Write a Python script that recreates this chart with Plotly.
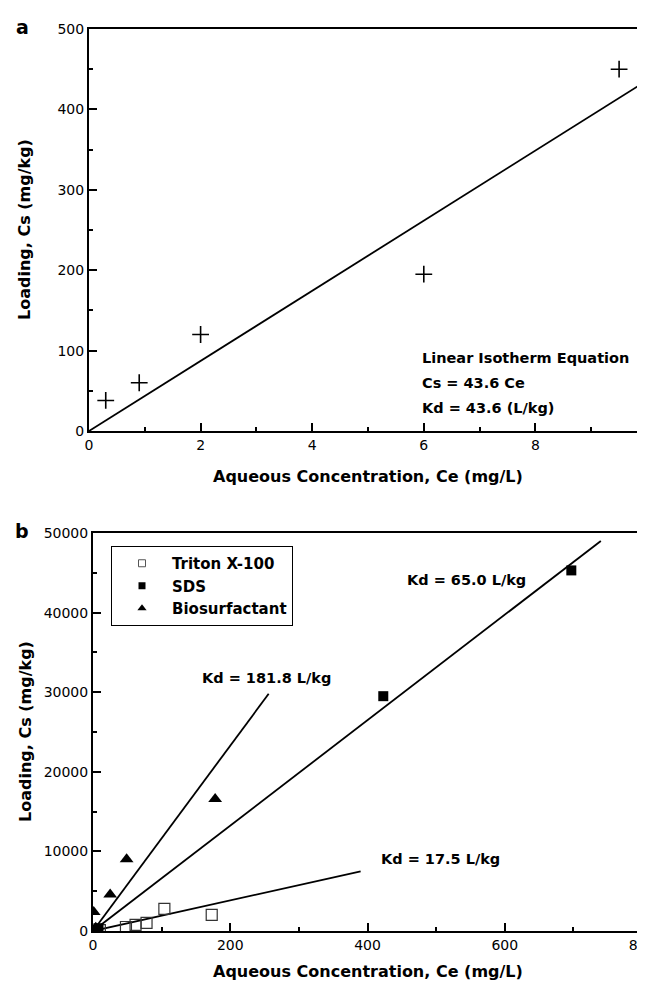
import plotly.graph_objects as go

# ---------- data: panel a ----------
a_ce = [0.3, 0.9, 2.0, 6.0, 9.5]
a_cs = [38, 60, 120, 195, 450]
a_kd = 43.6
a_fit_x = [0, 10]

# ---------- data: panel b ----------
triton_ce = [10, 48, 62, 78, 104, 173]
triton_cs = [100, 500, 760, 1010, 2780, 2030]
sds_ce = [3, 8, 423, 697]
sds_cs = [150, 350, 29500, 45300]
bio_ce = [1, 4, 25, 49, 178]
bio_cs = [2400, 400, 4600, 9000, 16580]

# fitted lines as drawn (start / end points)
line_bio_x = [0, 256]
line_bio_y = [0, 29800]
line_sds_x = [0, 740]
line_sds_y = [0, 49000]
line_tri_x = [0, 390]
line_tri_y = [0, 7500]

W, H = 645, 983
FAM = "DejaVu Sans, sans-serif"

fig = go.Figure()

# panel a
fig.add_trace(go.Scatter(x=a_ce, y=a_cs, mode="markers", xaxis="x", yaxis="y",
                         marker=dict(symbol="cross-thin", size=12, line=dict(color="black", width=1.6)),
                         showlegend=False, cliponaxis=False))
fig.add_trace(go.Scatter(x=a_fit_x, y=[a_kd * v for v in a_fit_x], mode="lines", xaxis="x", yaxis="y",
                         line=dict(color="black", width=1.8), showlegend=False))

# panel b lines
for lx, ly in [(line_bio_x, line_bio_y), (line_sds_x, line_sds_y), (line_tri_x, line_tri_y)]:
    fig.add_trace(go.Scatter(x=lx, y=ly, mode="lines", xaxis="x2", yaxis="y2",
                             line=dict(color="black", width=1.8), showlegend=False))

# panel b markers
fig.add_trace(go.Scatter(x=triton_ce, y=triton_cs, mode="markers", xaxis="x2", yaxis="y2",
                         marker=dict(symbol="square-open", size=11, color="#333", line=dict(width=1.2)),
                         showlegend=False))
fig.add_trace(go.Scatter(x=sds_ce, y=sds_cs, mode="markers", xaxis="x2", yaxis="y2",
                         marker=dict(symbol="square", size=10, color="black"), showlegend=False))
fig.add_trace(go.Scatter(x=bio_ce, y=bio_cs, mode="markers", xaxis="x2", yaxis="y2",
                         marker=dict(symbol="triangle-up", size=12, color="black"), showlegend=False))

# legend entries
fig.add_trace(go.Scatter(x=[None], y=[None], mode="markers", xaxis="x2", yaxis="y2", name="Triton X-100",
                         marker=dict(symbol="square-open", size=7, color="#555", line=dict(width=1))))
fig.add_trace(go.Scatter(x=[None], y=[None], mode="markers", xaxis="x2", yaxis="y2", name="SDS",
                         marker=dict(symbol="square", size=7, color="black")))
fig.add_trace(go.Scatter(x=[None], y=[None], mode="markers", xaxis="x2", yaxis="y2", name="Biosurfactant",
                         marker=dict(symbol="triangle-up", size=8, color="black")))

axis_common = dict(showline=True, linecolor="black", linewidth=2, mirror=True, ticks="inside",
                   ticklen=8, tickwidth=1.5, tickcolor="black", showgrid=False, zeroline=False,
                   automargin=False, tickformat="d", ticklabeloverflow="allow",
                   tickfont=dict(family=FAM, size=14, color="black"))

fig.update_layout(
    template="none",
    width=W, height=H, margin=dict(l=0, r=0, t=0, b=0, pad=0),
    paper_bgcolor="white", plot_bgcolor="white",
    xaxis=dict(domain=[81 / W, 639 / W], range=[0, 10], dtick=2, tick0=0, anchor="y",
               minor=dict(ticks="inside", ticklen=4, tickwidth=1.5, dtick=1, tickcolor="black"),
               **axis_common),
    yaxis=dict(domain=[1 - 423 / H, 1 - 21 / H], range=[0, 500], dtick=100, tick0=0, anchor="x",
               minor=dict(ticks="inside", ticklen=4, tickwidth=1.5, dtick=50, tickcolor="black"),
               **axis_common),
    xaxis2=dict(domain=[85 / W, 634 / W], range=[0, 800], dtick=200, tick0=0, anchor="y2",
                minor=dict(ticks="inside", ticklen=4, tickwidth=1.5, dtick=100, tickcolor="black"),
                **axis_common),
    yaxis2=dict(domain=[1 - 923 / H, 1 - 525 / H], range=[0, 50000], dtick=10000, tick0=0, anchor="x2",
                minor=dict(ticks="inside", ticklen=4, tickwidth=1.5, dtick=5000, tickcolor="black"),
                **axis_common),
    legend=dict(x=103 / W, y=1 - 538 / H, xanchor="left", yanchor="top",
                bordercolor="black", borderwidth=1, bgcolor="white", itemwidth=50,
                font=dict(family=FAM, size=15, color="black", weight="bold"), tracegroupgap=0),
    showlegend=True,
)

ann = []
def pann(text, px, py, size, angle=0):
    ann.append(dict(text=text, x=px / W, y=1 - py / H, xref="paper", yref="paper",
                    xanchor="center", yanchor="middle", textangle=angle, showarrow=False,
                    font=dict(family=FAM, size=size, color="black")))

# panel letters
pann("<b>a</b>", 14, 19, 19)
pann("<b>b</b>", 14, 523, 19)
# axis titles
pann("<b>Aqueous Concentration, Ce (mg/L)</b>", 360, 468, 16)
pann("<b>Aqueous Concentration, Ce (mg/L)</b>", 360, 963, 16)
for ty in [222, 724]:
    pann("<b>Loading, Cs (mg/kg)</b>", 17, ty, 16, -90)

# panel a equation block
for txt, yy in [("Linear Isotherm Equation", 90.8), ("Cs = 43.6 Ce", 59.7), ("Kd = 43.6 (L/kg)", 28.6)]:
    ann.append(dict(text="<b>" + txt + "</b>", x=5.93, y=yy, xref="x", yref="y",
                    xanchor="left", yanchor="middle",
                    showarrow=False, font=dict(family=FAM, size=14.5, color="black")))
# panel b line labels
for txt, xx, yy in [("Kd = 65.0 L/kg", 544, 44050), ("Kd = 181.8 L/kg", 253, 31770),
                    ("Kd = 17.5 L/kg", 506, 9000)]:
    ann.append(dict(text="<b>" + txt + "</b>", x=xx, y=yy, xref="x2", yref="y2",
                    xanchor="center", yanchor="middle",
                    showarrow=False, font=dict(family=FAM, size=14.5, color="black")))
fig.update_layout(annotations=ann)

fig.write_html("out.html", config={"displayModeBar": False})
